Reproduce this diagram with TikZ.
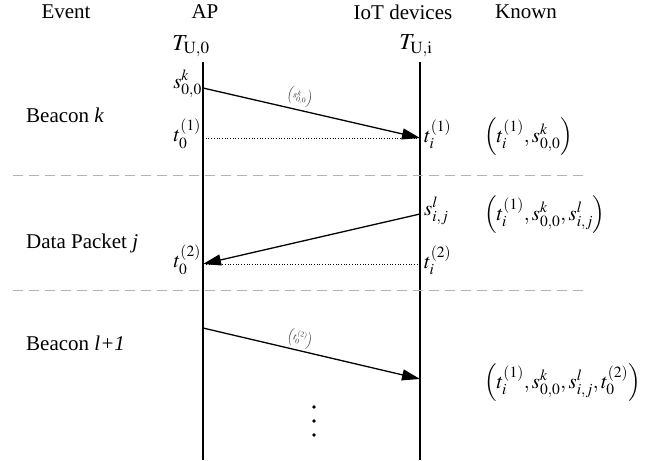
\documentclass[tikz,border=0pt]{standalone}
\usepackage{mathptmx}
\usepackage{fontspec}
\setmainfont{Liberation Serif}
\usetikzlibrary{arrows.meta}
\begin{document}
\begin{tikzpicture}[x=1pt,y=-1pt,
  every node/.style={inner sep=1pt,font=\fontsize{21}{24}\selectfont},
  lifeline/.style={line width=1.1pt},
  msg/.style={line width=1.3pt,-{Triangle[length=18pt,width=11pt]}},
  dotline/.style={dotted,line width=0.7pt},
  sep/.style={gray!60,line width=1pt,dash pattern=on 10pt off 6pt},
  small/.style={font=\fontsize{10}{12}\selectfont,rotate=-13,text=black!75},
  big/.style={font=\fontsize{23}{26}\selectfont},
  known/.style={anchor=west}]
\useasboundingbox (0,0) rectangle (668,460);
% headers
\node (ev) at (66,12) {Event};
\node (ap) at (205,12) {AP};
\node (iot) at (403,12) {IoT devices};
\node (kn) at (526,12) {Known};
\node[big] (tu0) at (191,46) {$T_{\mathrm{U,0}}$};
\node[big] (tui) at (416,46) {$T_{\mathrm{U,i}}$};
% lifelines
\coordinate (apT) at (203,62);
\coordinate (apB) at (203,460);
\coordinate (ioT) at (420,62);
\coordinate (ioB) at (420,460);
\draw[lifeline] (apT) -- (apB);
\draw[lifeline] (ioT) -- (ioB);
% events
\node[anchor=west] (bk) at (25,115) {Beacon \textit{k}};
\node[anchor=west] (dp) at (25,243) {Data Packet \textit{j}};
\node[anchor=west] (bl) at (25,343) {Beacon \textit{l+1}};
% separators
\coordinate (s1a) at (13,175); \coordinate (s1b) at (586,175);
\coordinate (s2a) at (13,290); \coordinate (s2b) at (586,290);
\draw[sep] (s1a) -- (s1b);
\draw[sep] (s2a) -- (s2b);
% beacon k
\coordinate (a1) at (203,88);
\coordinate (b1) at (420,138);
\coordinate (a1d) at (203,138);
\node[anchor=east] (s00) at (203,84) {$s^{k}_{0,0}$};
\node[anchor=east] (t01) at (202,134) {$t^{(1)}_{0}$};
\node[anchor=west] (ti1) at (423,134) {$t^{(1)}_{i}$};
\draw[msg] (a1) -- (b1);
\draw[dotline] (a1d) -- (b1);
\node[small] (l1) at (300,97) {$\left(s^{k}_{0,0}\right)$};
\node[known] (k1) at (483,137) {$\left(t^{(1)}_{i},s^{k}_{0,0}\right)$};
% data packet j
\coordinate (b2) at (420,214);
\coordinate (a2) at (203,264);
\coordinate (b2d) at (420,264);
\node[anchor=west] (sij) at (423,211) {$s^{l}_{i,j}$};
\node[anchor=east] (t02) at (202,260) {$t^{(2)}_{0}$};
\node[anchor=west] (ti2) at (423,260) {$t^{(2)}_{i}$};
\draw[msg] (b2) -- (a2);
\draw[dotline] (b2d) -- (a2);
\node[known] (k2) at (483,215) {$\left(t^{(1)}_{i},s^{k}_{0,0},s^{l}_{i,j}\right)$};
% beacon l+1
\coordinate (a3) at (203,328);
\coordinate (b3) at (420,379);
\draw[msg] (a3) -- (b3);
\node[small] (l3) at (300,339) {$\left(t^{(2)}_{0}\right)$};
\node[known] (k3) at (483,383) {$\left(t^{(1)}_{i},s^{k}_{0,0},s^{l}_{i,j},t^{(2)}_{0}\right)$};
% dots
\fill (314,407) circle (1.8pt);
\fill (314,421) circle (1.8pt);
\fill (314,435) circle (1.8pt);
\end{tikzpicture}
\end{document}
